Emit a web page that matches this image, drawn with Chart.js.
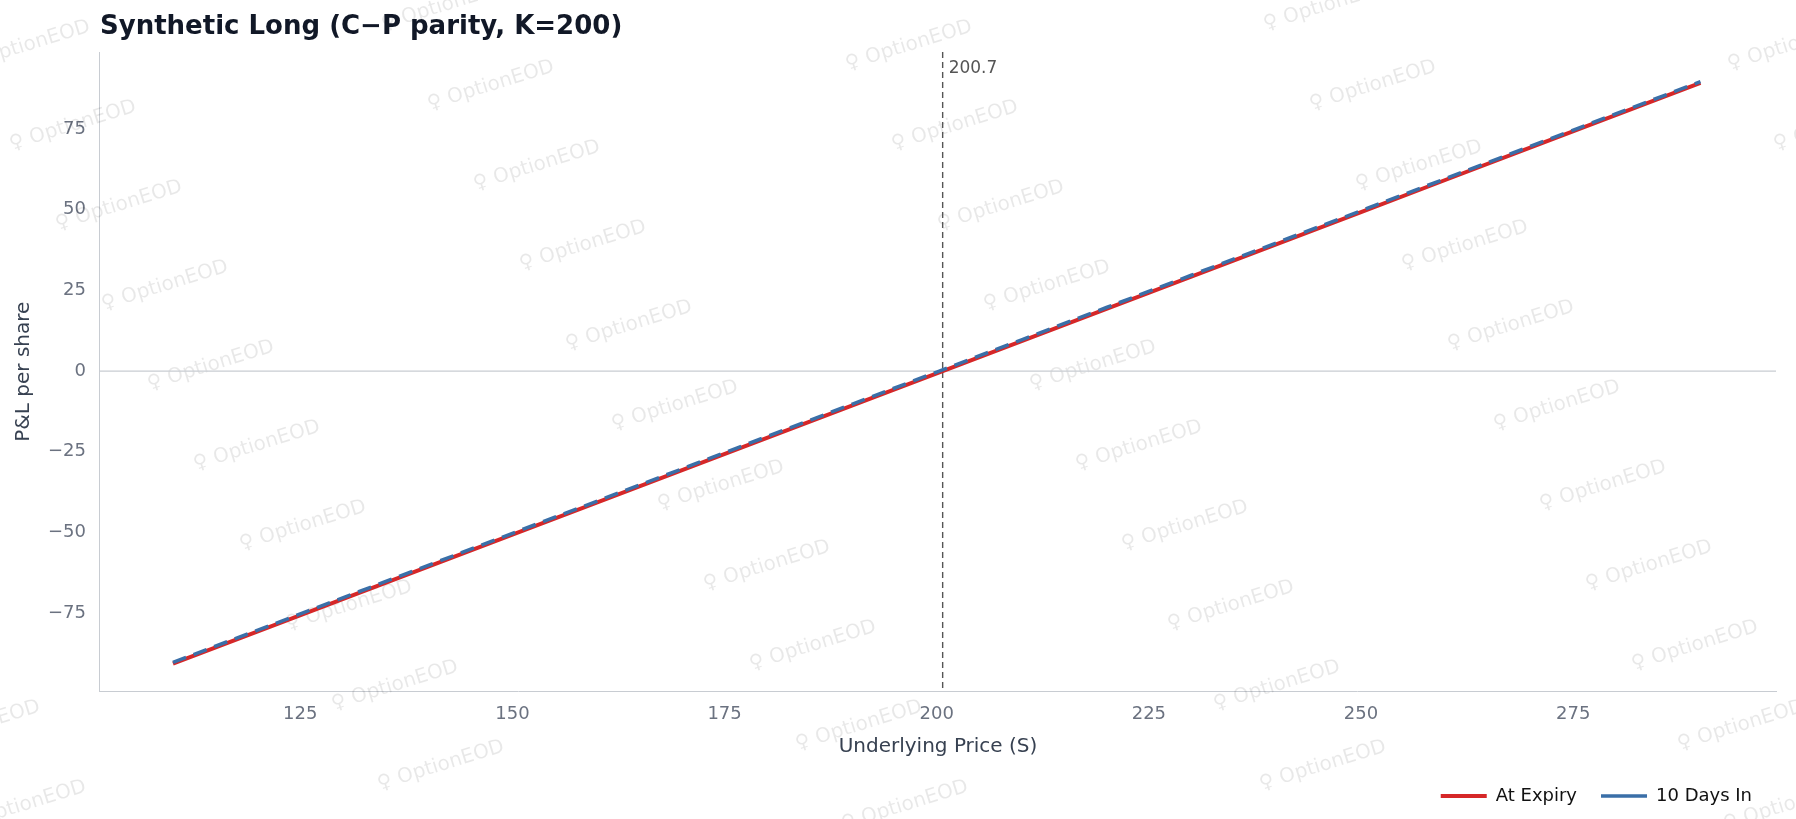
<!DOCTYPE html>
<html><head><meta charset="utf-8">
<script src="https://cdn.jsdelivr.net/npm/chart.js@4"></script>
<style>html,body{margin:0;padding:0;background:#fff}#w{width:1796px;height:819px;position:relative}</style>
</head><body><div id="w"><canvas id="c"></canvas></div>
<script>
const prices = [110,120,130,140,150,160,170,180,190,200,210,220,230,240,250,260,270,280,290];
const atExpiry = [-90.7,-80.7,-70.7,-60.7,-50.7,-40.7,-30.7,-20.7,-10.7,-0.7,9.3,19.3,29.3,39.3,49.3,59.3,69.3,79.3,89.3];
const tenDaysIn = [-90.3,-80.3,-70.3,-60.3,-50.3,-40.3,-30.3,-20.3,-10.3,-0.3,9.7,19.7,29.7,39.7,49.7,59.7,69.7,79.7,89.7];
const xTicks = [125,150,175,200,225,250,275];
const yTicks = [-75,-50,-25,0,25,50,75];
const breakeven = 200.7;
const titleText = 'Synthetic Long (C\u2212P parity, K=200)';
const FONT = "'DejaVu Sans', sans-serif";

const deco = {
  id:'deco',
  beforeDatasetsDraw(ch){
    const ctx=ch.ctx, a=ch.chartArea, x=ch.scales.x, y=ch.scales.y;
    ctx.save();
    ctx.font="20px "+FONT; ctx.fillStyle="rgba(0,0,0,0.09)";
    for(let r=-8;r<14;r++){for(let c=-2;c<7;c++){
      const px=10+c*418+r*46, py=145-c*40+r*80;
      if(px<-250||px>1900||py<-50||py>880) continue;
      ctx.save(); ctx.translate(px,py); ctx.rotate(-0.3);
      ctx.fillText("\u2640 OptionEOD",0,0); ctx.restore();
    }}
    ctx.restore();
    ctx.save(); ctx.strokeStyle="#c8ccd2"; ctx.lineWidth=1.3;
    const y0=y.getPixelForValue(0);
    ctx.beginPath(); ctx.moveTo(a.left,y0); ctx.lineTo(a.right,y0); ctx.stroke();
    const xb=x.getPixelForValue(breakeven);
    ctx.strokeStyle="#555"; ctx.setLineDash([6,4]); ctx.lineWidth=1.4;
    ctx.beginPath(); ctx.moveTo(xb,a.top); ctx.lineTo(xb,a.bottom); ctx.stroke();
    ctx.setLineDash([]); ctx.fillStyle="#555"; ctx.font="17px "+FONT;
    ctx.textBaseline="middle"; ctx.fillText("200.7",xb+6,a.top+17);
    ctx.restore();
  },
  afterDraw(ch){
    const ctx=ch.ctx;
    ctx.save(); ctx.fillStyle="#111827"; ctx.font="bold 26px "+FONT;
    ctx.textBaseline="alphabetic"; ctx.fillText(titleText, ch.chartArea.left, 34);
    ctx.restore();
  }
};

new Chart(document.getElementById('c'),{
  type:'line',
  data:{datasets:[
    {label:'At Expiry',data:prices.map((p,i)=>({x:p,y:atExpiry[i]})),borderColor:'#d62728',borderWidth:4,pointRadius:0,order:2},
    {label:'10 Days In',data:prices.map((p,i)=>({x:p,y:tenDaysIn[i]})),borderColor:'#3a6fa8',borderWidth:3.5,borderDash:[14,8],pointRadius:0,order:1}
  ]},
  options:{
    responsive:true,maintainAspectRatio:false,animation:false,
    layout:{padding:{left:8,right:20,top:52,bottom:4}},
    plugins:{
      title:{display:false},
      legend:{position:'bottom',align:'end',
        labels:{color:'#111',font:{family:FONT,size:18},boxWidth:46,boxHeight:0,padding:24,
          sort:(a,b)=>a.datasetIndex-b.datasetIndex}},
      tooltip:{enabled:false}
    },
    scales:{
      x:{type:'linear',min:101.4,max:298.9,
        afterBuildTicks(s){s.ticks=xTicks.map(v=>({value:v}));},
        grid:{display:false,tickLength:6},
        border:{color:'#c8ccd2'},
        ticks:{color:'#6b7280',font:{family:FONT,size:18},padding:6},
        title:{display:true,text:'Underlying Price (S)',color:'#374151',font:{family:FONT,size:20},padding:{top:4}}},
      y:{type:'linear',min:-99.3,max:98.9,
        afterBuildTicks(s){s.ticks=yTicks.map(v=>({value:v}));},
        grid:{display:false,tickLength:6},
        border:{color:'#c8ccd2'},
        ticks:{color:'#6b7280',font:{family:FONT,size:18},padding:8,callback:v=>v<0?'\u2212'+(-v):String(v)},
        title:{display:true,text:'P&L per share',color:'#374151',font:{family:FONT,size:20}}}
    }
  },
  plugins:[deco]
});
</script></body></html>
